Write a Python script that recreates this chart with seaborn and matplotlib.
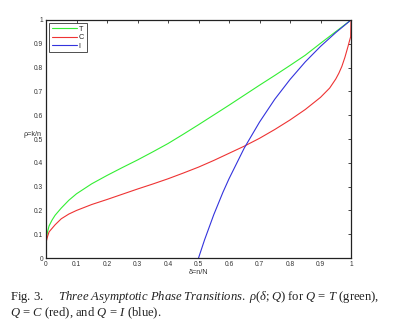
import matplotlib
matplotlib.use("Agg")
import matplotlib.pyplot as plt
import seaborn as sns
import pandas as pd

# Data
delta_T = [0, 0.001, 0.005, 0.01, 0.02, 0.03, 0.05, 0.075, 0.1, 0.15, 0.2, 0.25, 0.3,
           0.35, 0.4, 0.45, 0.5, 0.55, 0.6, 0.65, 0.7, 0.75, 0.8, 0.85, 0.9, 0.95, 1.0]
rho_T = [0, 0.08, 0.11, 0.135, 0.16, 0.18, 0.21, 0.243, 0.27, 0.312, 0.347, 0.38, 0.412,
         0.446, 0.481, 0.52, 0.56, 0.601, 0.642, 0.684, 0.726, 0.767, 0.809, 0.852, 0.902, 0.951, 1.0]

delta_C = [0, 0.001, 0.005, 0.01, 0.02, 0.03, 0.05, 0.075, 0.1, 0.15, 0.2, 0.25, 0.3,
           0.35, 0.4, 0.45, 0.5, 0.55, 0.6, 0.65, 0.7, 0.75, 0.8, 0.85, 0.9, 0.93, 0.95,
           0.96, 0.97, 0.98, 0.99, 0.995, 0.999, 1.0]
rho_C = [0, 0.07, 0.09, 0.11, 0.125, 0.14, 0.165, 0.185, 0.2, 0.225, 0.246, 0.268, 0.29,
         0.311, 0.333, 0.357, 0.382, 0.41, 0.44, 0.47, 0.503, 0.54, 0.58, 0.624, 0.675, 0.714,
         0.752, 0.776, 0.805, 0.843, 0.888, 0.912, 0.93, 1.0]

delta_I = [0.5, 0.52, 0.55, 0.58, 0.6, 0.65, 0.7, 0.75, 0.8, 0.85, 0.9, 0.95, 1.0]
rho_I = [0.0, 0.077, 0.182, 0.276, 0.333, 0.462, 0.571, 0.667, 0.75, 0.824, 0.889, 0.947, 1.0]

series = [("T", delta_T, rho_T, "#33ee33"),
          ("C", delta_C, rho_C, "#ee3333"),
          ("I", delta_I, rho_I, "#3333dd")]

ticks = [0, 0.1, 0.2, 0.3, 0.4, 0.5, 0.6, 0.7, 0.8, 0.9, 1]
tick_labels = ["0", "0.1", "0.2", "0.3", "0.4", "0.5", "0.6", "0.7", "0.8", "0.9", "1"]

sns.set_style("white")
plt.rcParams["font.family"] = ["Liberation Sans", "DejaVu Sans"]

fig = plt.figure(figsize=(4, 3.33), dpi=100)
ax = fig.add_axes([0.115, 0.225, 0.7625, 0.715])

for name, d, r, c in series:
    df = pd.DataFrame({"delta": d, "rho": r})
    sns.lineplot(data=df, x="delta", y="rho", ax=ax, color=c, lw=0.8,
                 sort=False, estimator=None, label=name)

ax.set_xlim(0, 1)
ax.set_ylim(0, 1)
ax.set_xticks(ticks)
ax.set_xticklabels(tick_labels)
ax.set_yticks(ticks)
ax.set_yticklabels(tick_labels)
ax.tick_params(direction="in", length=2.5, width=0.6, labelsize=4.8,
               labelcolor="#333333", top=True, right=True, pad=2)
for s in ax.spines.values():
    s.set_color("#222222")
    s.set_linewidth(0.9)

ax.set_xlabel("δ=n/N", fontsize=5.2, labelpad=1, color="#333333")
ax.set_ylabel("ρ=k/n", fontsize=5.2, rotation=0, color="#333333", va="center")
ax.yaxis.set_label_coords(-0.045, 0.52)

leg = ax.legend(loc="upper left", fontsize=5.3, frameon=True, fancybox=False,
                handlelength=3.4, handletextpad=0.3, borderpad=0.35,
                labelspacing=0.2, borderaxespad=0.4)
leg.get_frame().set_edgecolor("#222222")
leg.get_frame().set_linewidth(0.7)

plt.rcParams["mathtext.fontset"] = "custom"
plt.rcParams["mathtext.rm"] = "Liberation Serif"
plt.rcParams["mathtext.it"] = "Liberation Serif:italic"

fig.text(0.025, 0.108,
         r"Fig. 3.     $\mathit{Three\ Asymptotic\ Phase\ Transitions.}$ "
         r"$\rho(\delta;Q)$ for $Q\,=\,T$ (green),",
         fontsize=9.1, family="Liberation Serif", color="#222222", va="center")
fig.text(0.025, 0.06,
         r"$Q\,=\,C$ (red), and $Q\,=\,I$ (blue).",
         fontsize=9.1, family="Liberation Serif", color="#222222", va="center")

fig.savefig("out.png", dpi=100)
